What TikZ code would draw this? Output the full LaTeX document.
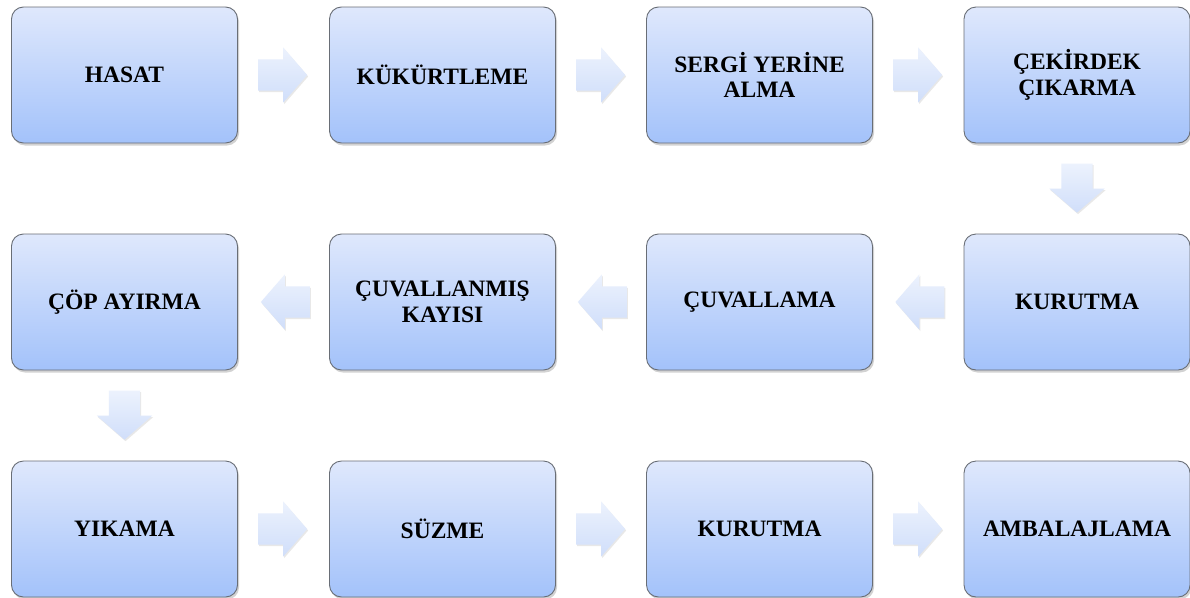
\documentclass[tikz,border=0pt]{standalone}
\usepackage{fontspec}
\setmainfont{Liberation Serif}
\usetikzlibrary{shapes.arrows,shadows,calc}
\definecolor{boxtop}{RGB}{223,232,252}
\definecolor{boxbot}{RGB}{163,194,250}
\definecolor{boxline}{RGB}{105,110,118}
\definecolor{arrtop}{RGB}{236,242,253}
\definecolor{arrbot}{RGB}{208,222,250}
\begin{document}
\begin{tikzpicture}[x=1pt,y=-1pt,
  stepbox/.style={draw=boxline, line width=0.9pt, rounded corners=12pt,
    top color=boxtop, bottom color=boxbot,
    minimum width=226pt, minimum height=136pt, inner sep=2pt,
    align=center, font=\fontsize{23.5pt}{25.5pt}\selectfont\bfseries,
    drop shadow={opacity=0.35, shadow xshift=1.5pt, shadow yshift=-2.5pt}},
  flowarrow/.style={single arrow, draw=none, top color=arrtop, bottom color=arrbot,
    minimum height=49pt, inner xsep=0pt, inner ysep=15.5pt, anchor=tail,
    single arrow head extend=12pt, single arrow tip angle=98,
    drop shadow={opacity=0.18, shadow xshift=1pt, shadow yshift=-1.5pt}},
  downarrow/.style={flowarrow, shape border rotate=270, inner xsep=15.5pt, inner ysep=0pt},
  leftarrow/.style={flowarrow, shape border rotate=180}]
\useasboundingbox (0,0) rectangle (1190,597);
\fill[white] (0,0) rectangle (1190,597);
% row 1
\node[stepbox] (a1) at (124.5,75) {HASAT};
\node[stepbox] (a2) at (442.5,75) {KÜKÜRTLEME};
\node[stepbox] (a3) at (759.5,75) {SERGİ YERİNE\\ALMA};
\node[stepbox] (a4) at (1077,75) {ÇEKİRDEK\\ÇIKARMA};
% row 2
\node[stepbox] (b4) at (1077,302) {KURUTMA};
\node[stepbox] (b3) at (759.5,302) {ÇUVALLAMA};
\node[stepbox] (b2) at (442.5,302) {ÇUVALLANMIŞ\\KAYISI};
\node[stepbox] (b1) at (124.5,302) {ÇÖP AYIRMA};
% row 3
\node[stepbox] (c1) at (124.5,529) {YIKAMA};
\node[stepbox] (c2) at (442.5,529) {SÜZME};
\node[stepbox] (c3) at (759.5,529) {KURUTMA};
\node[stepbox] (c4) at (1077,529) {AMBALAJLAMA};
% arrows
\node[flowarrow] (r1) at ($(a1.east)+(20,0)$) {};
\node[flowarrow] (r2) at ($(a2.east)+(20,0)$) {};
\node[flowarrow] (r3) at ($(a3.east)+(20,0)$) {};
\node[downarrow] (d1) at ($(a4.south)+(0,20)$) {};
\node[leftarrow] (l3) at ($(b4.west)+(-19,0)$) {};
\node[leftarrow] (l2) at ($(b3.west)+(-19,0)$) {};
\node[leftarrow] (l1) at ($(b2.west)+(-19,0)$) {};
\node[downarrow] (d2) at ($(b1.south)+(0,20)$) {};
\node[flowarrow] (s1) at ($(c1.east)+(20,0)$) {};
\node[flowarrow] (s2) at ($(c2.east)+(20,0)$) {};
\node[flowarrow] (s3) at ($(c3.east)+(20,0)$) {};
\end{tikzpicture}
\end{document}
